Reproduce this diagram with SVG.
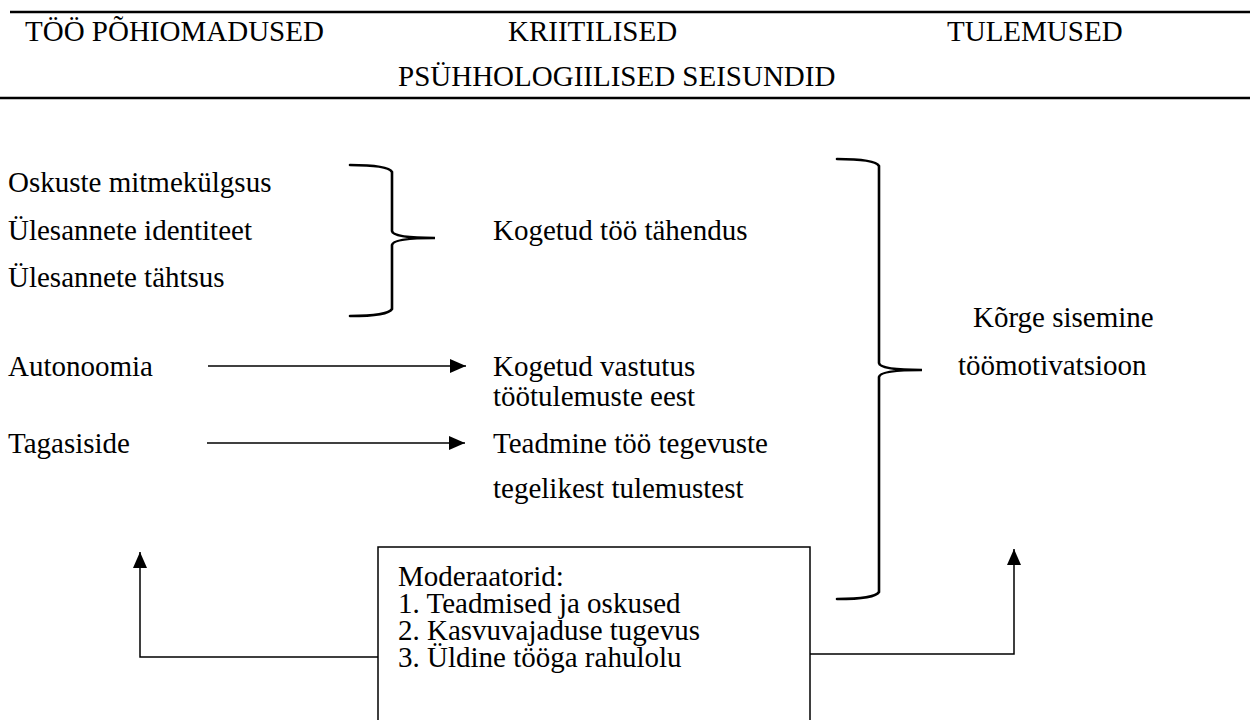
<svg xmlns="http://www.w3.org/2000/svg" width="1250" height="720" viewBox="0 0 1250 720">
<style>
text{font-family:'Liberation Serif','Times New Roman',serif;font-size:29px;fill:#000}
.rule{stroke:#000;stroke-width:2.5;fill:none}
.brace{stroke:#000;stroke-width:2.6;fill:none;stroke-linecap:round}
.conn{stroke:#000;stroke-width:1.5;fill:none}
.box{stroke:#000;stroke-width:1.5;fill:#fff}
</style>
<defs>
<marker id="arr" viewBox="0 0 16 14" refX="16" refY="7" markerWidth="16" markerHeight="14" markerUnits="userSpaceOnUse" orient="auto">
<path d="M0,0 L16,7 L0,14 Z" fill="#000"/>
</marker>
</defs>
<g id="header">
<line class="rule" x1="10" y1="12" x2="1250" y2="12"/>
<line class="rule" x1="0" y1="98" x2="1250" y2="98"/>
<text x="25" y="41">TÖÖ PÕHIOMADUSED</text>
<text x="508" y="41">KRIITILISED</text>
<text x="947" y="41">TULEMUSED</text>
<text x="398" y="86">PSÜHHOLOGIILISED SEISUNDID</text>
</g>
<g id="characteristics">
<text x="8" y="192">Oskuste mitmekülgsus</text>
<text x="8" y="240">Ülesannete identiteet</text>
<text x="8" y="287">Ülesannete tähtsus</text>
<text x="8" y="376">Autonoomia</text>
<text x="8" y="453">Tagasiside</text>
</g>
<g id="states">
<text x="493" y="240">Kogetud töö tähendus</text>
<text x="493" y="376">Kogetud vastutus</text>
<text x="493" y="406">töötulemuste eest</text>
<text x="493" y="453">Teadmine töö tegevuste</text>
<text x="493" y="498">tegelikest tulemustest</text>
</g>
<g id="outcome">
<text x="973" y="327">Kõrge sisemine</text>
<text x="958" y="375">töömotivatsioon</text>
</g>
<g id="moderators">
<rect class="box" x="378" y="547" width="432" height="200"/>
<text x="398" y="586">Moderaatorid:</text>
<text x="398" y="613">1. Teadmised ja oskused</text>
<text x="398" y="640">2. Kasvuvajaduse tugevus</text>
<text x="398" y="667">3. Üldine tööga rahulolu</text>
</g>
<g id="connectors">
<path class="brace" d="M350,165 Q388,165 392,172 L392,231 Q393,238 435,238 Q393,238 392,245 L392,309 Q388,316 350,316"/>
<path class="brace" d="M837,159 Q875,159 879,166 L879,363 Q880,370 922,370 Q880,370 879,377 L879,592 Q875,599 837,599"/>
<line class="conn" x1="208" y1="366" x2="466" y2="366" marker-end="url(#arr)"/>
<line class="conn" x1="207" y1="443" x2="465" y2="443" marker-end="url(#arr)"/>
<polyline class="conn" points="378,657 140,657 140,552" marker-end="url(#arr)"/>
<polyline class="conn" points="810,654 1014,654 1014,549" marker-end="url(#arr)"/>
</g>
</svg>
